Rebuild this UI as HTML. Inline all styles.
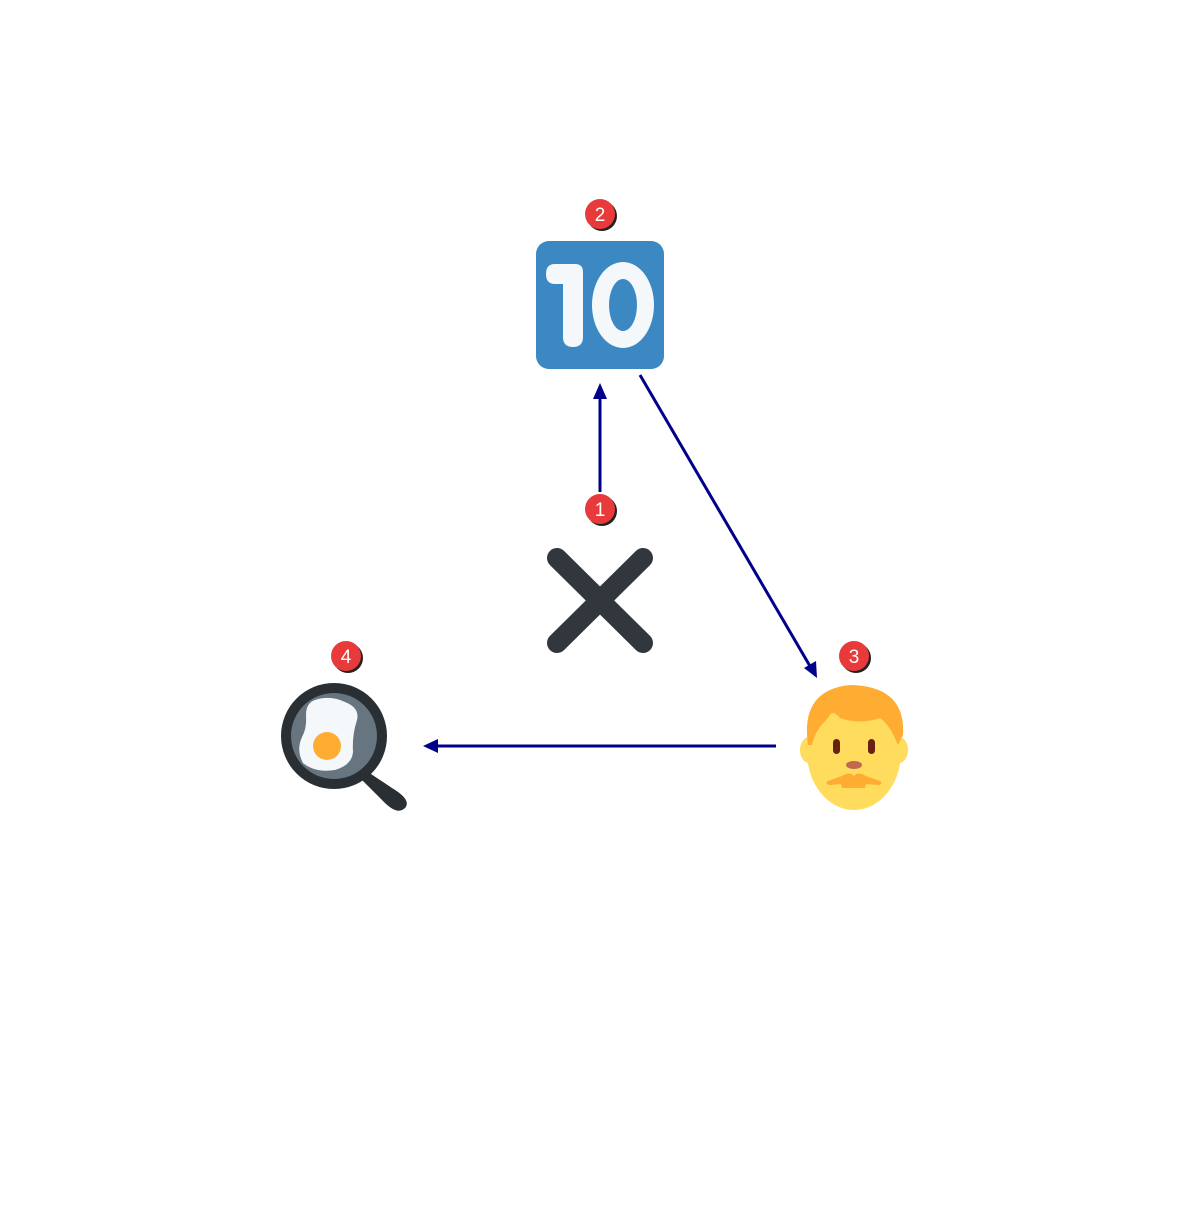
<!DOCTYPE html>
<html><head><style>html,body{margin:0;background:#fff}</style></head><body>
<svg width="1200" height="1200" viewBox="0 0 1200 1200" xmlns="http://www.w3.org/2000/svg">
<defs>
<marker id="ah" markerWidth="10" markerHeight="10" refX="9" refY="5" orient="auto" markerUnits="userSpaceOnUse">
<path d="M0,0 L10,5 L0,10 z" fill="#00008b" transform="scale(1.2) translate(-1.5,-0.8)"/>
</marker>
</defs>
<!-- connectors -->
<line x1="600" y1="492" x2="600" y2="386" stroke="#00008b" stroke-width="3"/>
<path d="M600,383 L593,399 L607,399 z" fill="#00008b"/>
<line x1="640" y1="375" x2="814" y2="673" stroke="#00008b" stroke-width="3"/>
<path d="M817,678 L804,668 L816,661 z" fill="#00008b"/>
<line x1="776" y1="746" x2="430" y2="746" stroke="#00008b" stroke-width="3"/>
<path d="M423,746 L438,739 L438,753 z" fill="#00008b"/>
<!-- 10 box -->
<rect x="536" y="241" width="128" height="128" rx="13" fill="#3b88c3"/>
<path d="M555,264 L575,264 Q583,264 583,272 L583,337 Q583,347 573,347 Q563,347 563,337 L563,284 L555,284 Q546,284 546,274 Q546,264 555,264 Z" fill="#f5f8fa"/>
<ellipse cx="623" cy="305" rx="31" ry="43" fill="#f5f8fa"/>
<ellipse cx="623" cy="305" rx="14" ry="26" fill="#3b88c3"/>
<!-- X -->
<g stroke="#31373d" stroke-width="20" stroke-linecap="round">
<line x1="557" y1="558" x2="643" y2="643"/>
<line x1="643" y1="558" x2="557" y2="643"/>
</g>
<!-- pan -->
<path d="M368,772 L392,788 Q412,800 405,808 Q398,815 386,804 L362,780 Z" fill="#292f33"/>
<circle cx="334" cy="736" r="53" fill="#292f33"/>
<circle cx="334" cy="736" r="43" fill="#66757f"/>
<path d="M315,700 Q330,695 345,702 Q360,708 357,720 Q352,735 353,752 Q352,765 335,770 Q315,773 303,763 Q296,750 302,737 Q307,728 306,715 Q306,703 315,700 Z" fill="#f5f8fa"/>
<circle cx="327" cy="746" r="14" fill="#ffac33"/>
<!-- face -->
<ellipse cx="809" cy="750" rx="9" ry="13" fill="#ffdc5d"/>
<ellipse cx="899" cy="750" rx="9" ry="13" fill="#ffdc5d"/>
<ellipse cx="854" cy="752" rx="47" ry="58" fill="#ffdc5d"/>
<path d="M808,745 Q800,690 850,685 Q906,686 903,735 L898,745 Q890,725 880,718 Q860,725 840,718 Q832,708 828,718 Q815,730 812,745 Z" fill="#ffac33"/>
<rect x="833" y="739" width="7" height="15" rx="3.5" fill="#662113"/>
<rect x="868" y="739" width="7" height="15" rx="3.5" fill="#662113"/>
<ellipse cx="854" cy="765" rx="8" ry="4" fill="#c1694f"/>
<path d="M828,781 L842,776 Q850,771 854,776 Q858,771 866,776 L880,781 Q884,784 878,785 L866,784 L865,788 L842,788 L841,784 L830,785 Q824,784 828,781 Z" fill="#ffac33"/>
<!-- badges -->
<g font-family="Liberation Sans, sans-serif" font-size="19" fill="#fff" text-anchor="middle">
<g><circle cx="602" cy="216" r="15" fill="#222"/><circle cx="600" cy="214" r="15" fill="#e83a3a"/><text x="600" y="221">2</text></g>
<g><circle cx="602" cy="511" r="15" fill="#222"/><circle cx="600" cy="509" r="15" fill="#e83a3a"/><text x="600" y="516">1</text></g>
<g><circle cx="856" cy="658" r="15" fill="#222"/><circle cx="854" cy="656" r="15" fill="#e83a3a"/><text x="854" y="663">3</text></g>
<g><circle cx="348" cy="658" r="15" fill="#222"/><circle cx="346" cy="656" r="15" fill="#e83a3a"/><text x="346" y="663">4</text></g>
</g>
</svg>
</body></html>
